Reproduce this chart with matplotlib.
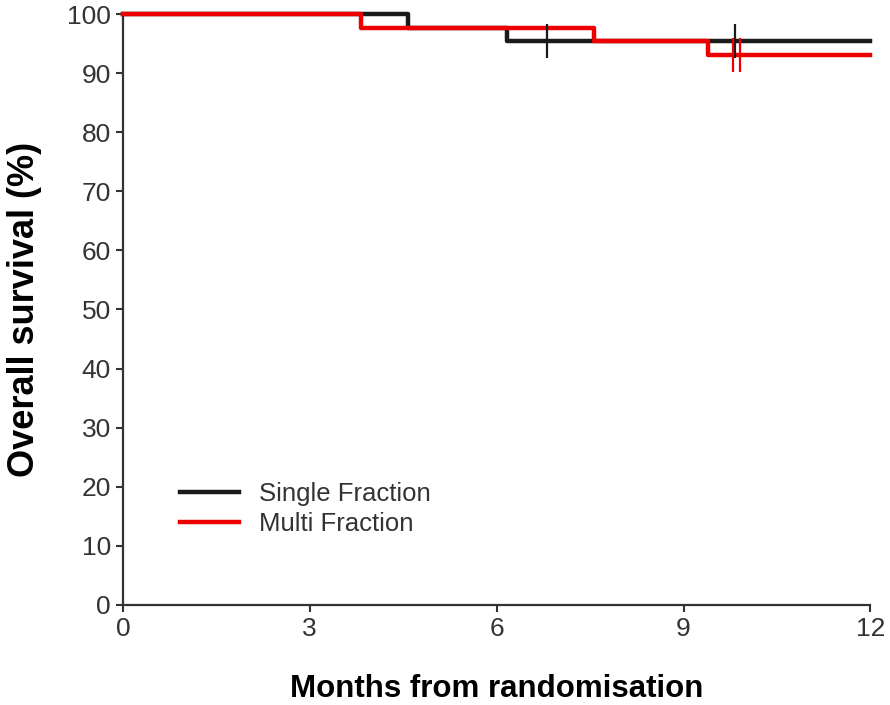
import matplotlib as mpl
import matplotlib.pyplot as plt

mpl.rcParams.update({
    "font.family": ["Liberation Sans", "DejaVu Sans"],
    "axes.spines.top": False,
    "axes.spines.right": False,
})

# Kaplan-Meier step data (months, survival %)
sf_time = [0, 4.58, 6.17, 12]
sf_surv = [100, 97.7, 95.4, 95.4]
sf_cens_t = [6.81, 9.83]
sf_cens_s = [95.4, 95.4]

mf_time = [0, 3.82, 7.57, 9.40, 12]
mf_surv = [100, 97.7, 95.4, 93.0, 93.0]
mf_cens_t = [9.80, 9.90]
mf_cens_s = [93.0, 93.0]

SF_COLOR = "#1a1a1a"
MF_COLOR = "#ee0000"
AX_COLOR = "#333333"

fig = plt.figure(figsize=(8.9, 7.05), dpi=100)
ax = fig.add_axes([0.138, 0.142, 0.840, 0.838])

ax.step(sf_time, sf_surv, where="post", color=SF_COLOR, lw=3.2, clip_on=False,
        label="Single Fraction", zorder=3)
ax.step(mf_time, mf_surv, where="post", color=MF_COLOR, lw=3.2, clip_on=False,
        label="Multi Fraction", zorder=4)
ax.plot(sf_cens_t, sf_cens_s, ls="none", marker="|", ms=24, mew=1.6,
        color=SF_COLOR, zorder=5, clip_on=False)
ax.plot(mf_cens_t, mf_cens_s, ls="none", marker="|", ms=24, mew=1.6,
        color=MF_COLOR, zorder=5, clip_on=False)

ax.set_xlim(0, 12)
ax.set_ylim(0, 100)
ax.set_xticks([0, 3, 6, 9, 12])
ax.set_yticks(range(0, 101, 10))
ax.tick_params(labelsize=19, colors=AX_COLOR, width=1.5, length=5, labelcolor="#333333")
for s in ("left", "bottom"):
    ax.spines[s].set_linewidth(1.6)
    ax.spines[s].set_color(AX_COLOR)

ax.set_xlabel("Months from randomisation", fontsize=22.5, fontweight="bold", labelpad=24)
ax.set_ylabel("Overall survival (%)", fontsize=26, fontweight="bold", labelpad=18)

leg = ax.legend(loc="lower left", bbox_to_anchor=(0.045, 0.078), frameon=False,
                fontsize=18.5, handlelength=2.3, handletextpad=0.8, labelspacing=0.22,
                labelcolor="#333333")

fig.savefig("out.png", dpi=100)
